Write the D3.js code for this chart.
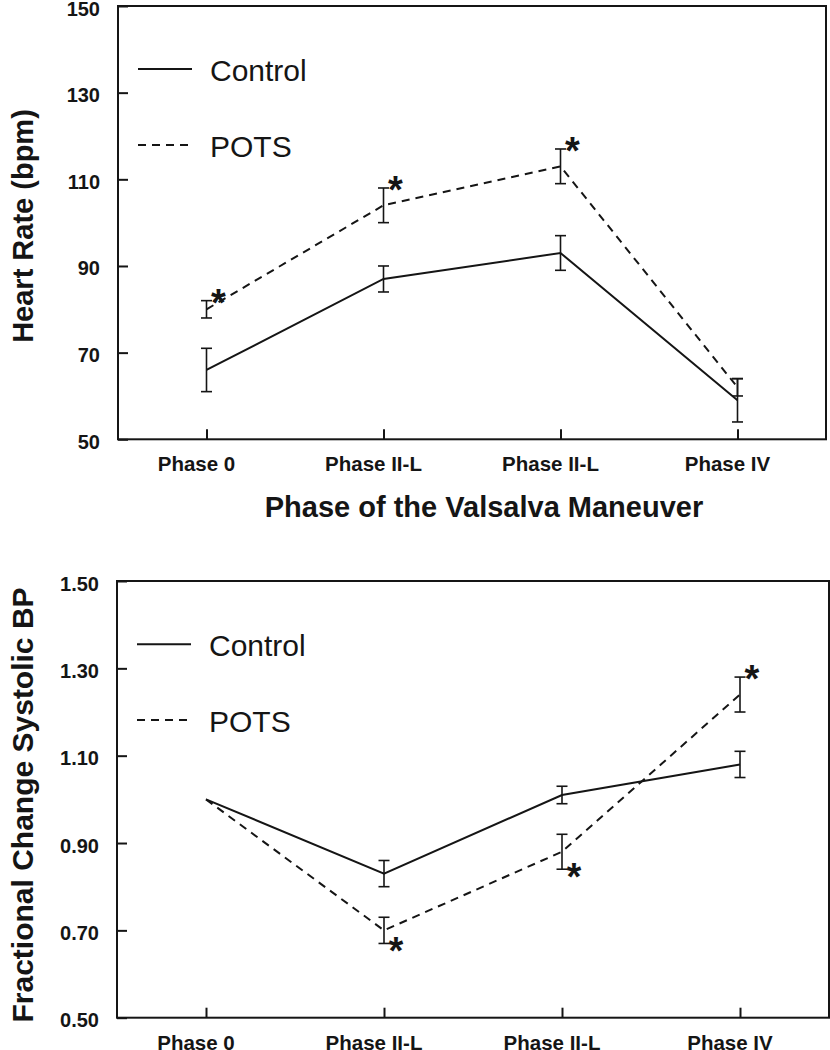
<!DOCTYPE html>
<html>
<head>
<meta charset="utf-8">
<script src="https://cdn.jsdelivr.net/npm/d3@7"></script>
<style>
  html, body { margin: 0; padding: 0; background: #fff; }
  svg { display: block; font-family: "Liberation Sans", Arial, Helvetica, sans-serif; }
</style>
</head>
<body>
<svg id="chart" width="830" height="1050"></svg>
<script>
// ---- data ----
const phases = ["Phase 0", "Phase II-L", "Phase II-L", "Phase IV"];
const seriesNames = ["Control", "POTS"];

const hrControl    = [66, 87, 93, 59];
const hrControlErr = [5, 3, 4, 5];
const hrPots       = [80, 104, 113, 62];
const hrPotsErr    = [2, 4, 4, 2];
const hrTicks      = [50, 70, 90, 110, 130, 150];
const hrStars      = [{ i: 0, side: "above" }, { i: 1, side: "above" }, { i: 2, side: "above" }];

const bpControl    = [1.00, 0.83, 1.01, 1.08];
const bpControlErr = [0, 0.03, 0.02, 0.03];
const bpPots       = [1.00, 0.70, 0.88, 1.24];
const bpPotsErr    = [0, 0.03, 0.04, 0.04];
const bpTicks      = [0.50, 0.70, 0.90, 1.10, 1.30, 1.50];
const bpStars      = [{ i: 1, side: "below" }, { i: 2, side: "below" }, { i: 3, side: "above" }];

// ---- drawing ----
const svg = d3.select("#chart");
const ink = "#151515";

function panel(cfg) {
  const { left, top, right, bottom } = cfg.box;
  const x = d3.scalePoint().domain(d3.range(phases.length)).range([left, right]).padding(0.5);
  const y = d3.scaleLinear().domain(cfg.domain).range([bottom, top]);
  const g = svg.append("g");

  // frame
  g.append("rect")
    .attr("x", left).attr("y", top)
    .attr("width", right - left).attr("height", bottom - top)
    .attr("fill", "none").attr("stroke", ink).attr("stroke-width", 2);

  // y axis (ticks inward)
  const yAxis = d3.axisLeft(y).tickValues(cfg.ticks).tickSize(-10).tickPadding(18).tickFormat(cfg.fmt);
  const ya = g.append("g").attr("transform", `translate(${left},0)`).call(yAxis);
  ya.select(".domain").remove();
  ya.selectAll(".tick line").attr("stroke", ink).attr("stroke-width", 2);
  ya.selectAll(".tick text")
    .attr("fill", ink).attr("font-size", 20).attr("font-weight", "bold")
    .attr("dy", "0.45em");

  // x axis (ticks inward)
  const xAxis = d3.axisBottom(x).tickSize(-10).tickPadding(17.5).tickFormat(i => phases[i]);
  const xa = g.append("g").attr("transform", `translate(0,${bottom})`).call(xAxis);
  xa.select(".domain").remove();
  xa.selectAll(".tick line").attr("stroke", ink).attr("stroke-width", 2);
  xa.selectAll(".tick text")
    .attr("fill", ink).attr("font-size", 20.5).attr("font-weight", "bold")
    .attr("dx", -10.5).attr("dy", "0.71em");

  const line = d3.line().x((d, i) => x(i)).y(d => y(d));

  const series = [
    { vals: cfg.control, err: cfg.controlErr, dash: null },
    { vals: cfg.pots, err: cfg.potsErr, dash: "8,6" }
  ];

  series.forEach(s => {
    g.append("path")
      .attr("d", line(s.vals))
      .attr("fill", "none").attr("stroke", ink).attr("stroke-width", 2)
      .attr("stroke-dasharray", s.dash);

    const eb = g.append("g").selectAll("g")
      .data(s.vals.map((v, i) => ({ v, e: s.err[i], i })).filter(d => d.e > 0))
      .join("g");
    eb.append("line")
      .attr("x1", d => x(d.i)).attr("x2", d => x(d.i))
      .attr("y1", d => y(d.v - d.e)).attr("y2", d => y(d.v + d.e))
      .attr("stroke", ink).attr("stroke-width", 1.6);
    [1, -1].forEach(sign => {
      eb.append("line")
        .attr("x1", d => x(d.i) - 5.5).attr("x2", d => x(d.i) + 5.5)
        .attr("y1", d => y(d.v + sign * d.e)).attr("y2", d => y(d.v + sign * d.e))
        .attr("stroke", ink).attr("stroke-width", 1.6);
    });
  });

  // significance stars (on POTS)
  g.selectAll("text.star")
    .data(cfg.stars)
    .join("text")
    .attr("class", "star")
    .attr("x", d => x(d.i) + 12)
    .attr("y", d => {
      const v = d.side === "above" ? cfg.pots[d.i] + cfg.potsErr[d.i] : cfg.pots[d.i] - cfg.potsErr[d.i];
      const c = y(v) + (d.side === "above" ? -6 : 0);
      return c + 21;
    })
    .attr("text-anchor", "middle")
    .attr("font-size", 38).attr("font-weight", "bold").attr("fill", ink)
    .text("*");

  // legend
  const lg = g.append("g");
  seriesNames.forEach((name, k) => {
    const ly = cfg.legendY[k];
    lg.append("line")
      .attr("x1", left + 20).attr("x2", left + 74)
      .attr("y1", ly).attr("y2", ly)
      .attr("stroke", ink).attr("stroke-width", 2)
      .attr("stroke-dasharray", k === 1 ? "8,6" : null);
    lg.append("text")
      .attr("x", left + 92).attr("y", ly + 11.5)
      .attr("font-size", 30).attr("fill", ink)
      .text(name);
  });

  // y axis title
  g.append("text")
    .attr("transform", `translate(${cfg.yTitleX},${cfg.yTitleY}) rotate(-90)`)
    .attr("text-anchor", "middle")
    .attr("font-size", cfg.yTitleSize).attr("font-weight", "bold").attr("fill", ink)
    .text(cfg.yTitle);

  return { x, y };
}

panel({
  box: { left: 118, top: 6, right: 826, bottom: 439.3 },
  domain: [50, 150], ticks: hrTicks, fmt: d3.format("d"),
  control: hrControl, controlErr: hrControlErr, pots: hrPots, potsErr: hrPotsErr,
  stars: hrStars, legendY: [69, 145],
  yTitle: "Heart Rate (bpm)", yTitleX: 33, yTitleY: 226, yTitleSize: 29
});

panel({
  box: { left: 117, top: 581, right: 829, bottom: 1017.7 },
  domain: [0.5, 1.5], ticks: bpTicks, fmt: d3.format(".2f"),
  control: bpControl, controlErr: bpControlErr, pots: bpPots, potsErr: bpPotsErr,
  stars: bpStars, legendY: [644.3, 720],
  yTitle: "Fractional Change Systolic BP", yTitleX: 33, yTitleY: 805, yTitleSize: 30
});

// shared x title under top panel
svg.append("text")
  .attr("x", 484).attr("y", 517)
  .attr("text-anchor", "middle")
  .attr("font-size", 29).attr("font-weight", "bold").attr("fill", ink)
  .text("Phase of the Valsalva Maneuver");
</script>
</body>
</html>
